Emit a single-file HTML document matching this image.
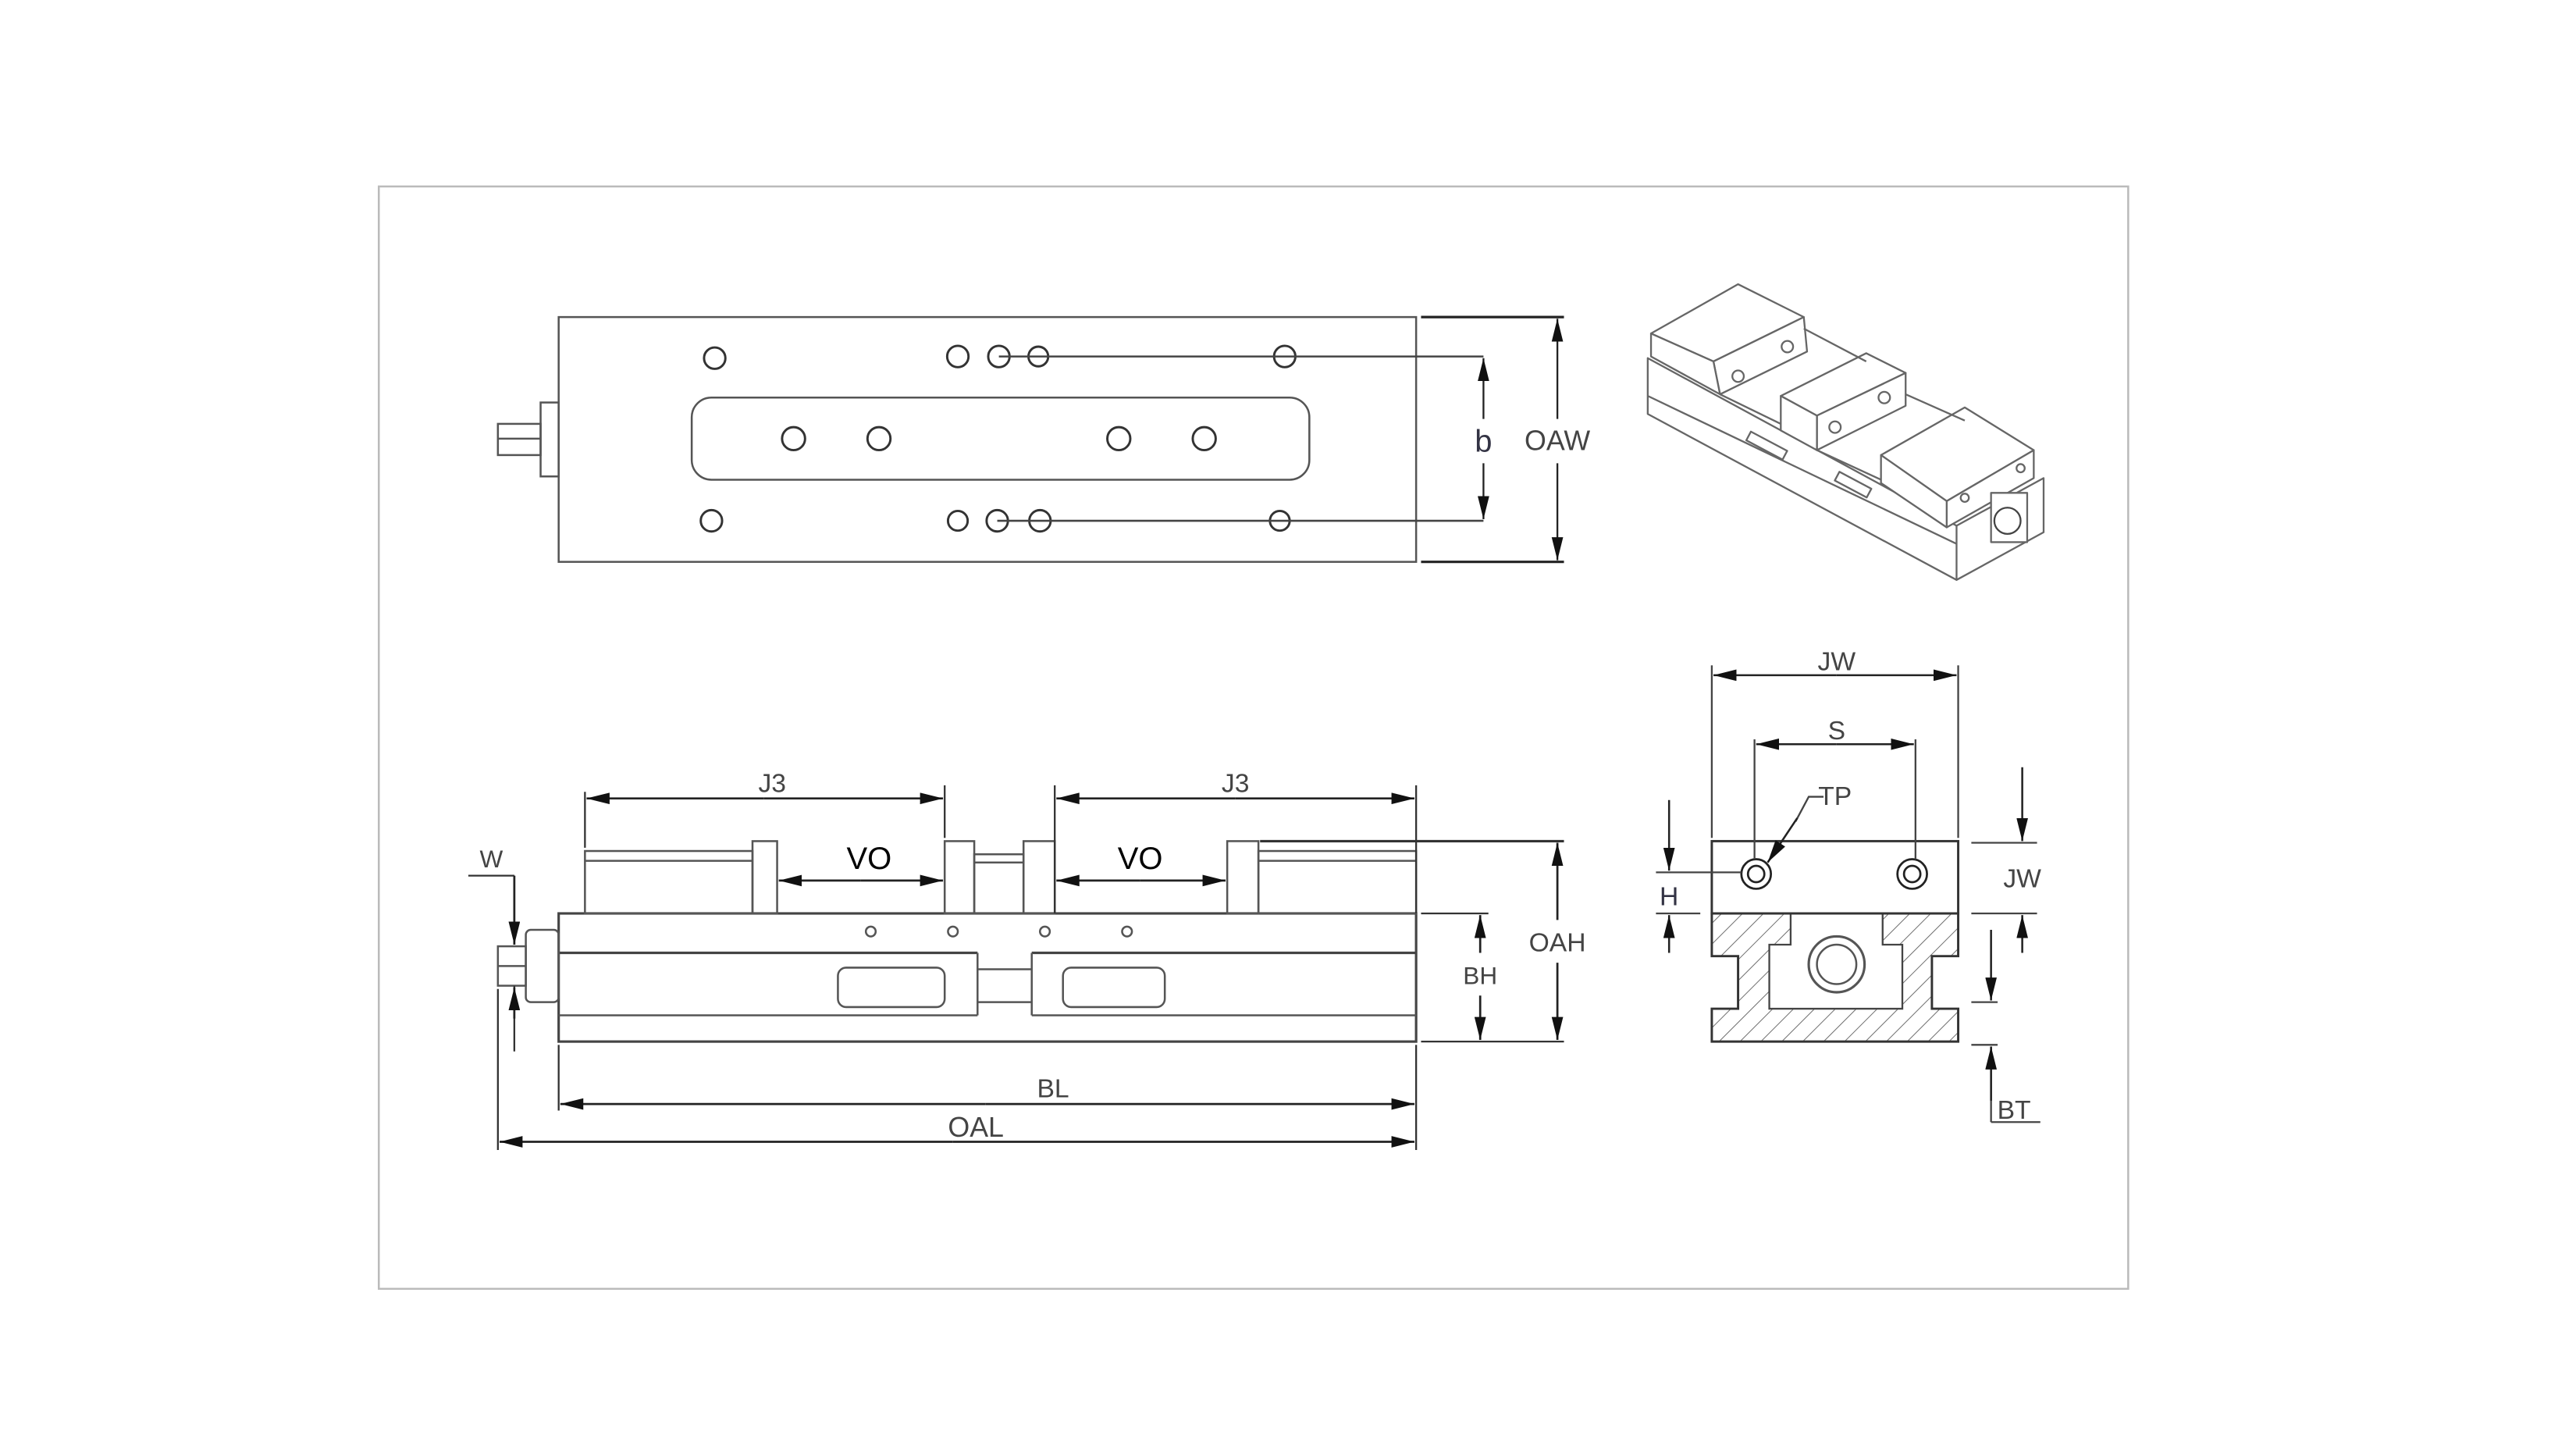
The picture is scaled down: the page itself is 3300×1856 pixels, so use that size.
<!DOCTYPE html>
<html><head><meta charset="utf-8"><style>
html,body{margin:0;padding:0;background:#fff;}
svg{display:block;}
text{font-family:"Liberation Sans",sans-serif;fill:#444;}
</style></head><body>
<svg width="3300" height="1856" viewBox="0 0 1568 882" xmlns="http://www.w3.org/2000/svg">
<defs>
<marker id="a" viewBox="0 0 14 7" refX="14" refY="3.5" markerWidth="14" markerHeight="7" markerUnits="userSpaceOnUse" orient="auto-start-reverse"><path d="M0,0L14,3.5L0,7z" fill="#111"/></marker>
<pattern id="h" width="9" height="9" patternUnits="userSpaceOnUse" patternTransform="rotate(45)"><line x1="0" y1="0" x2="0" y2="9" stroke="#666" stroke-width="0.9"/></pattern>
</defs>
<rect width="1568" height="882" fill="#fff"/>
<rect x="230.5" y="113.5" width="1065" height="671" fill="none" stroke="#bbb" stroke-width="1.2"/>

<g fill="none" stroke="#555" stroke-width="1.2">
<rect x="340" y="193" width="522" height="149"/>
<rect x="421" y="242" width="376" height="50" rx="12"/>
<rect x="329" y="245" width="11" height="45"/>
<rect x="303" y="258" width="26" height="19"/>
<line x1="303" y1="267" x2="329" y2="267"/>
<g stroke="#333" stroke-width="1.4">
<circle cx="435" cy="218" r="6.5"/><circle cx="583" cy="217" r="6.5"/><circle cx="608" cy="217" r="6.5"/><circle cx="632" cy="217" r="6"/><circle cx="782" cy="217" r="6.5"/>
<circle cx="433" cy="317" r="6.5"/><circle cx="583" cy="317" r="6"/><circle cx="607" cy="317" r="6.5"/><circle cx="633" cy="317" r="6.5"/><circle cx="779" cy="317" r="6"/>
<circle cx="483" cy="267" r="7"/><circle cx="535" cy="267" r="7"/><circle cx="681" cy="267" r="7"/><circle cx="733" cy="267" r="7"/>
</g>
<line x1="608" y1="217" x2="903" y2="217" stroke="#444"/>
<line x1="607" y1="317" x2="903" y2="317" stroke="#444"/>
<line x1="865" y1="193" x2="952" y2="193" stroke="#222" stroke-width="1.5"/>
<line x1="865" y1="342" x2="952" y2="342" stroke="#222" stroke-width="1.5"/>
</g>
<g stroke="#222" stroke-width="1.1">
<line x1="903" y1="255" x2="903" y2="218" marker-end="url(#a)"/>
<line x1="903" y1="282" x2="903" y2="316" marker-end="url(#a)"/>
<line x1="948" y1="255" x2="948" y2="194" marker-end="url(#a)"/>
<line x1="948" y1="282" x2="948" y2="341" marker-end="url(#a)"/>
</g>
<text x="903" y="275" font-size="19" text-anchor="middle" style="fill:#334">b</text>
<text x="948" y="274" font-size="17" text-anchor="middle">OAW</text>

<g fill="#fff" stroke="#666" stroke-width="1.1" stroke-linejoin="round">
<polygon points="1003,218 1003,252 1191,353 1244,324 1244,291 1191,320"/>
<line x1="1003" y1="241" x2="1191" y2="331"/>
<line x1="1191" y1="320" x2="1191" y2="353"/>
<polygon points="1005,203 1058,173 1098,193 1043,220"/>
<polygon points="1043,220 1098,193 1100,214 1047,240"/>
<polygon points="1005,203 1043,220 1047,240 1005,217"/>
<polygon points="1084,241 1136,215 1160,227 1106,253"/>
<polygon points="1106,253 1160,227 1160,247 1106,274"/>
<polygon points="1084,241 1106,253 1106,274 1084,262"/>
<polygon points="1145,277 1196,248 1238,274 1185,305"/>
<polygon points="1185,305 1238,274 1238,291 1185,321"/>
<polygon points="1145,277 1185,305 1185,321 1145,294"/>
<line x1="1098" y1="200" x2="1136" y2="220"/>
<line x1="1047" y1="240" x2="1084" y2="258"/>
<line x1="1160" y1="240" x2="1196" y2="256"/>
<line x1="1106" y1="274" x2="1145" y2="292"/>
<rect x="1063" y="268" width="25" height="6" transform="rotate(28 1075 271)"/>
<rect x="1117" y="292" width="22" height="6" transform="rotate(28 1128 295)"/>
<circle cx="1058" cy="229" r="3.5"/><circle cx="1088" cy="211" r="3.5"/><circle cx="1117" cy="260" r="3.5"/><circle cx="1147" cy="242" r="3.5"/><circle cx="1196" cy="303" r="2.5"/><circle cx="1230" cy="285" r="2.5"/>
<rect x="1212" y="300" width="22" height="30"/><circle cx="1222" cy="317" r="8" stroke="#444"/>
</g>

<g fill="none" stroke="#555" stroke-width="1.2">
<rect x="340" y="556" width="522" height="78" stroke="#444" stroke-width="1.5"/>
<line x1="340" y1="580" x2="595" y2="580" stroke="#444" stroke-width="1.5"/><line x1="628" y1="580" x2="862" y2="580" stroke="#444" stroke-width="1.5"/>
<line x1="340" y1="618" x2="595" y2="618"/><line x1="628" y1="618" x2="862" y2="618"/>
<line x1="595" y1="580" x2="595" y2="618"/><line x1="628" y1="580" x2="628" y2="618"/>
<line x1="595" y1="590" x2="628" y2="590"/><line x1="595" y1="610" x2="628" y2="610"/>
<rect x="510" y="589" width="65" height="24" rx="5"/>
<rect x="647" y="589" width="62" height="24" rx="5"/>
<circle cx="530" cy="567" r="3"/><circle cx="580" cy="567" r="3"/><circle cx="636" cy="567" r="3"/><circle cx="686" cy="567" r="3"/>
<rect x="356" y="518" width="102" height="38"/><line x1="356" y1="524" x2="458" y2="524"/>
<rect x="458" y="512" width="15" height="44"/>
<rect x="575" y="512" width="18" height="44"/>
<rect x="593" y="520" width="30" height="36"/><line x1="593" y1="525" x2="623" y2="525"/>
<rect x="623" y="512" width="19" height="44"/>
<rect x="747" y="512" width="19" height="44"/>
<rect x="766" y="518" width="96" height="38"/><line x1="766" y1="524" x2="862" y2="524"/>
<rect x="320" y="566" width="20" height="44" rx="3"/>
<rect x="303" y="576" width="17" height="24"/><line x1="303" y1="588" x2="320" y2="588"/>
</g>
<g stroke="#333" stroke-width="1.1" fill="none">
<line x1="356" y1="482" x2="356" y2="516"/><line x1="575" y1="478" x2="575" y2="510"/>
<line x1="642" y1="478" x2="642" y2="556"/><line x1="862" y1="478" x2="862" y2="556"/>
<line x1="767" y1="512" x2="952" y2="512" stroke-width="1.5"/>
<line x1="865" y1="556" x2="906" y2="556"/><line x1="865" y1="634" x2="952" y2="634"/>
<line x1="340" y1="636" x2="340" y2="676"/><line x1="862" y1="636" x2="862" y2="700"/>
<line x1="303" y1="602" x2="303" y2="700"/>
<line x1="285" y1="533" x2="313" y2="533"/>
<line x1="313" y1="600" x2="313" y2="640"/>
</g>
<g stroke="#222" stroke-width="1.3">
<line x1="465" y1="486" x2="357" y2="486" marker-end="url(#a)"/><line x1="465" y1="486" x2="574" y2="486" marker-end="url(#a)"/>
<line x1="752" y1="486" x2="643" y2="486" marker-end="url(#a)"/><line x1="752" y1="486" x2="861" y2="486" marker-end="url(#a)"/>
<line x1="524" y1="536" x2="474" y2="536" marker-end="url(#a)"/><line x1="524" y1="536" x2="574" y2="536" marker-end="url(#a)"/>
<line x1="694" y1="536" x2="643" y2="536" marker-end="url(#a)"/><line x1="694" y1="536" x2="746" y2="536" marker-end="url(#a)"/>
<line x1="948" y1="560" x2="948" y2="513" marker-end="url(#a)"/><line x1="948" y1="586" x2="948" y2="633" marker-end="url(#a)"/>
<line x1="901" y1="580" x2="901" y2="557" marker-end="url(#a)"/><line x1="901" y1="606" x2="901" y2="633" marker-end="url(#a)"/>
<line x1="600" y1="672" x2="341" y2="672" marker-end="url(#a)"/><line x1="600" y1="672" x2="861" y2="672" marker-end="url(#a)"/>
<line x1="580" y1="695" x2="304" y2="695" marker-end="url(#a)"/><line x1="580" y1="695" x2="861" y2="695" marker-end="url(#a)"/>
<line x1="313" y1="533" x2="313" y2="575" marker-end="url(#a)"/>
<line x1="313" y1="620" x2="313" y2="601" marker-end="url(#a)"/>
</g>
<text x="470" y="482" font-size="16" text-anchor="middle">J3</text>
<text x="752" y="482" font-size="16" text-anchor="middle">J3</text>
<text x="529" y="529" font-size="19" text-anchor="middle" style="fill:#000">VO</text>
<text x="694" y="529" font-size="19" text-anchor="middle" style="fill:#000">VO</text>
<text x="948" y="579" font-size="16" text-anchor="middle">OAH</text>
<text x="901" y="599" font-size="15" text-anchor="middle">BH</text>
<text x="299" y="528" font-size="15" text-anchor="middle">W</text>
<text x="641" y="668" font-size="16" text-anchor="middle">BL</text>
<text x="594" y="692" font-size="17" text-anchor="middle">OAL</text>

<path d="M1042,556 H1192 V582 H1176 V614 H1192 V634 H1042 V614 H1058 V582 H1042 Z" fill="url(#h)" stroke="#333" stroke-width="1.4"/>
<path d="M1090,556 H1146 V575 H1158 V614 H1077 V575 H1090 Z" fill="#fff" stroke="#444" stroke-width="1.1"/>
<circle cx="1118" cy="587" r="17" fill="#fff" stroke="#555" stroke-width="1.5"/>
<circle cx="1118" cy="587" r="12" fill="none" stroke="#555" stroke-width="1.2"/>
<rect x="1042" y="512" width="150" height="44" fill="#fff" stroke="#333" stroke-width="1.4"/>
<g fill="none" stroke="#222" stroke-width="1.3">
<circle cx="1069" cy="532" r="9"/><circle cx="1069" cy="532" r="5"/>
<circle cx="1164" cy="532" r="9"/><circle cx="1164" cy="532" r="5"/>
</g>
<g stroke="#444" stroke-width="1.1" fill="none">
<line x1="1042" y1="405" x2="1042" y2="510"/><line x1="1192" y1="405" x2="1192" y2="510"/>
<line x1="1068" y1="450" x2="1068" y2="523"/><line x1="1166" y1="450" x2="1166" y2="523"/>
<line x1="1008" y1="531" x2="1060" y2="531"/><line x1="1008" y1="556" x2="1035" y2="556"/>
<line x1="1200" y1="513" x2="1240" y2="513"/><line x1="1200" y1="556" x2="1240" y2="556"/>
<line x1="1200" y1="610" x2="1216" y2="610"/><line x1="1200" y1="636" x2="1216" y2="636"/>
<line x1="1212" y1="637" x2="1212" y2="683"/><line x1="1212" y1="683" x2="1242" y2="683"/>
<polyline points="1093,500 1101,485 1110,485"/>
</g>
<g stroke="#222" stroke-width="1.2">
<line x1="1118" y1="411" x2="1043" y2="411" marker-end="url(#a)"/><line x1="1118" y1="411" x2="1191" y2="411" marker-end="url(#a)"/>
<line x1="1118" y1="453" x2="1069" y2="453" marker-end="url(#a)"/><line x1="1118" y1="453" x2="1165" y2="453" marker-end="url(#a)"/>
<line x1="1094" y1="498" x2="1076" y2="525" marker-end="url(#a)"/>
<line x1="1016" y1="487" x2="1016" y2="530" marker-end="url(#a)"/>
<line x1="1016" y1="580" x2="1016" y2="557" marker-end="url(#a)"/>
<line x1="1231" y1="467" x2="1231" y2="512" marker-end="url(#a)"/>
<line x1="1231" y1="580" x2="1231" y2="557" marker-end="url(#a)"/>
<line x1="1212" y1="566" x2="1212" y2="609" marker-end="url(#a)"/>
<line x1="1212" y1="670" x2="1212" y2="637" marker-end="url(#a)"/>
</g>
<text x="1118" y="408" font-size="16" text-anchor="middle">JW</text>
<text x="1118" y="450" font-size="16" text-anchor="middle">S</text>
<text x="1117" y="490" font-size="16" text-anchor="middle">TP</text>
<text x="1016" y="551" font-size="16" text-anchor="middle" style="fill:#334">H</text>
<text x="1231" y="540" font-size="16" text-anchor="middle">JW</text>
<text x="1226" y="681" font-size="16" text-anchor="middle">BT</text>
</svg>
</body></html>
